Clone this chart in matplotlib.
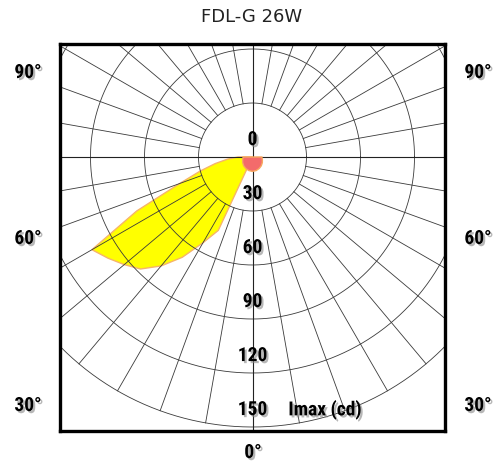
import numpy as np
import matplotlib
matplotlib.use("Agg")
import matplotlib.pyplot as plt
from matplotlib import patheffects as pe

# luminous intensity (cd) vs gamma angle from nadir
gamma = [0, 5, 10, 15, 20, 25, 30, 35, 40, 45, 50, 55, 60, 65, 70, 75, 80, 85, 90, 95]
c0_cd = [0, 0, 0, 0, 0, 45, 55, 68, 79, 88, 93, 98, 103, 71, 43, 30, 21, 14, 8, 0]

gamma_b = [0, 15, 30, 45, 60, 75, 90, 95]
c90_cd = [8, 7.8, 7.4, 6.9, 6.3, 5.7, 5.2, 0]

rings = [30, 60, 90, 120, 150]
ring_labels = ["0", "30", "60", "90", "120", "150"]
angle_labels = ["90°", "60°", "30°"]
title = "FDL-G 26W"

W, H = 504, 463
fig = plt.figure(figsize=(W / 100, H / 100), dpi=100)
px = 1.8  # pixels per cd
cx, cy = 252.5, 157
bx0, bx1, by0, by1 = 60, 445, 44, 431
ax = fig.add_axes([bx0 / W, 1 - by1 / H, (bx1 - bx0) / W, (by1 - by0) / H])
ax.set_xlim((bx0 - cx) / px, (bx1 - cx) / px)
ax.set_ylim((cy - by1) / px, (cy - by0) / px)
ax.set_xticks([])
ax.set_yticks([])
for s in ax.spines.values():
    s.set_linewidth(2.4)
    s.set_color("black")

# yellow lobe (left side)
g = np.radians(gamma)
r = np.array(c0_cd)
xs = np.concatenate([[0], -r * np.sin(g), [0]])
ys = np.concatenate([[0], -r * np.cos(g), [0]])
ax.fill(xs, ys, facecolor="#ffff00", edgecolor="#f6b46a", lw=1.0, zorder=1,
        joinstyle="round")

# grid
th = np.linspace(0, 2 * np.pi, 400)
for rr in rings:
    ax.plot(rr * np.cos(th), rr * np.sin(th), color="#3a3a3a", lw=0.6, zorder=2)
for a in range(0, 360, 10):
    if a % 90 == 0:
        continue
    t = np.radians(a)
    ax.plot([30 * np.sin(t), 150 * np.sin(t)], [-30 * np.cos(t), -150 * np.cos(t)],
            color="#3a3a3a", lw=0.6, zorder=2)
ax.axhline(0, color="#222222", lw=0.8, zorder=2)
ax.axvline(0, color="#222222", lw=0.8, zorder=2)

# red C90/C270 curve
gb = np.radians(gamma_b)
rb = np.array(c90_cd)
xb = np.concatenate([rb * np.sin(gb), -rb[::-1] * np.sin(gb[::-1])])
yb = np.concatenate([-rb * np.cos(gb), -rb[::-1] * np.cos(gb[::-1])])
ax.fill(xb, yb, facecolor="#f36b6b", edgecolor="#f7a860", lw=1.0, zorder=3)

shadow = [pe.SimplePatchShadow(offset=(1.5, -1.5), shadow_rgbFace="#888888", alpha=0.6), pe.Normal()]
lab_font = dict(family=["Roboto Condensed", "Open Sans Condensed", "DejaVu Sans"], fontsize=14,
                fontweight="bold", fontstretch="condensed", color="black", path_effects=shadow)

vals = [0] + rings
for v, s in zip(vals, ring_labels):
    ax.text(0, 9.4 - v, s, ha="center", va="center", zorder=4, **lab_font)
ax.text(40.3, 9.4 - 150, "Imax (cd)", ha="center", va="center", zorder=4, **lab_font)

for s, yp in zip(angle_labels, [73, 239, 406]):
    fig.text(28 / W, 1 - yp / H, s, ha="center", va="center", **lab_font)
    fig.text(478 / W, 1 - yp / H, s, ha="center", va="center", **lab_font)
fig.text(253 / W, 1 - 453 / H, "0°", ha="center", va="center", **lab_font)

fig.text(0.5, 1 - 17 / H, title, ha="center", va="center", fontsize=13,
         color="#222222", family="DejaVu Sans")

fig.savefig("out.png", dpi=100)
